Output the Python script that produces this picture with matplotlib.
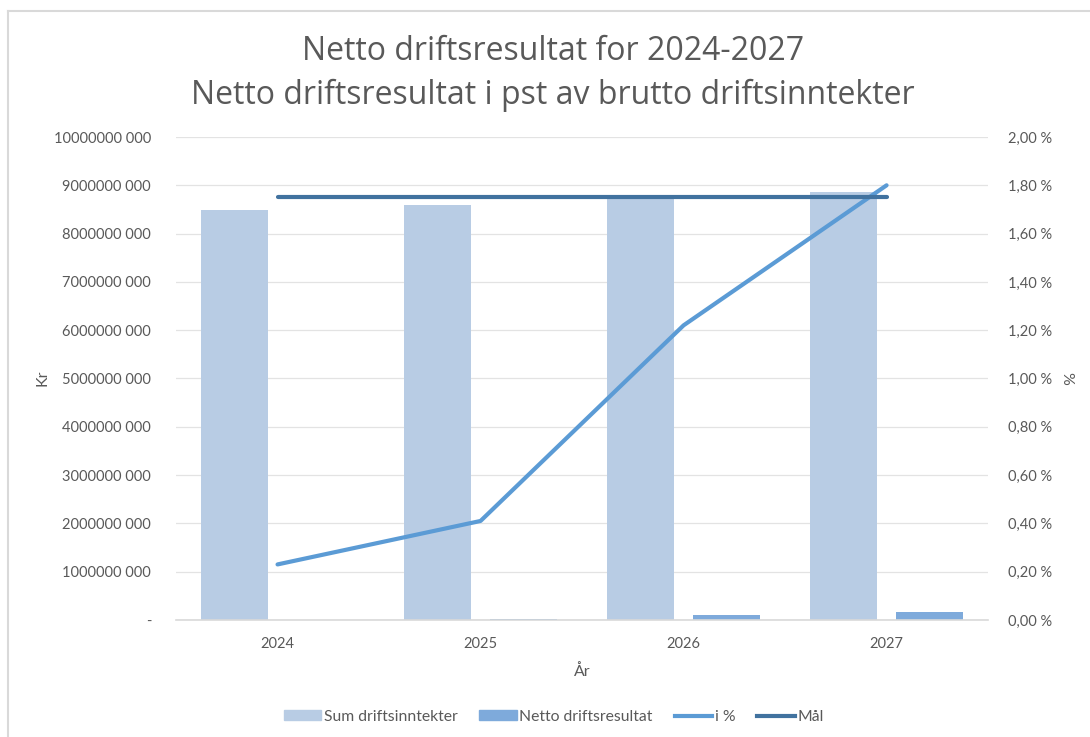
import numpy as np
import matplotlib
matplotlib.use("Agg")
import matplotlib.pyplot as plt
from matplotlib.ticker import FuncFormatter, MultipleLocator
from matplotlib.lines import Line2D

# data
years = ["2024", "2025", "2026", "2027"]
sum_driftsinntekter = [8.49e9, 8.59e9, 8.76e9, 8.86e9]
netto_driftsresultat = [8e6, 10e6, 107e6, 160e6]
i_pst = [0.23, 0.41, 1.22, 1.80]
maal = [1.75, 1.75, 1.75, 1.75]

txt = "#595959"
grid_c = "#d9d9d9"
c_sum = "#b8cce4"
c_netto = "#7eaadb"
c_pst = "#5b9bd5"
c_maal = "#41729f"

plt.rcParams["font.family"] = ["Lato", "DejaVu Sans"]

fig = plt.figure(figsize=(10.9, 7.37), dpi=100)
ax = fig.add_axes([0.1615, 0.1588, 0.745, 0.6553])
ax2 = ax.twinx()

x = np.arange(len(years))
w = 0.33
ax.bar(x - 0.21, sum_driftsinntekter, w, color=c_sum, zorder=2, label="Sum driftsinntekter")
ax.bar(x + 0.21, netto_driftsresultat, w, color=c_netto, zorder=2, label="Netto driftsresultat")

ax.set_xlim(-0.5, 3.5)
ax.set_ylim(0, 10e9)
ax.yaxis.set_major_locator(MultipleLocator(1e9))

def kr_fmt(v, pos):
    if v == 0:
        return "-"
    return f"{int(v // 1000)} 000"

ax.yaxis.set_major_formatter(FuncFormatter(kr_fmt))
ax.grid(axis="y", color="#e3e3e3", lw=0.9, zorder=0)
ax.set_axisbelow(True)

ax2.plot(x, i_pst, color=c_pst, lw=3, solid_capstyle="round", zorder=3)
ax2.plot(x, maal, color=c_maal, lw=3, solid_capstyle="round", zorder=3)
ax2.set_ylim(0, 2.0)
ax2.yaxis.set_major_locator(MultipleLocator(0.2))
ax2.yaxis.set_major_formatter(FuncFormatter(lambda v, p: f"{v:.2f}".replace(".", ",") + " %"))

for a in (ax, ax2):
    for s in a.spines.values():
        s.set_visible(False)
    a.tick_params(length=0, labelsize=10.5, colors=txt)
ax.spines["bottom"].set_visible(True)
ax.spines["bottom"].set_color(grid_c)
ax.spines["bottom"].set_linewidth(1.2)

ax.set_xticks(x)
ax.set_xticklabels(years)
ax.tick_params(axis="x", pad=12)
ax.tick_params(axis="y", pad=18)
ax2.tick_params(axis="y", pad=14)

ax.set_xlabel("År", fontsize=11.5, color=txt, labelpad=10)
fig.text(42 / 1090, 1 - 378 / 737, "Kr", rotation=90, ha="center", va="center", fontsize=11.5, color=txt)
fig.text(1066 / 1090, 1 - 378 / 737, "%", rotation=270, ha="center", va="center", fontsize=11.5, color=txt)

fig.text(0.507, 1 - 52 / 737, "Netto driftsresultat for 2024-2027", ha="center", va="center",
         fontsize=23, color=txt, family=["Open Sans", "DejaVu Sans"])
fig.text(0.507, 1 - 95 / 737, "Netto driftsresultat i pst av brutto driftsinntekter", ha="center", va="center",
         fontsize=23, color=txt, family=["Open Sans", "DejaVu Sans"])

handles = [
    plt.Rectangle((0, 0), 1, 1, color=c_sum),
    plt.Rectangle((0, 0), 1, 1, color=c_netto),
    Line2D([], [], color=c_pst, lw=3),
    Line2D([], [], color=c_maal, lw=3),
]
labels = ["Sum driftsinntekter", "Netto driftsresultat", "i %", "Mål"]
fig.legend(handles, labels, loc="center", bbox_to_anchor=(0.508, 1 - 717 / 737), ncol=4, frameon=False,
           fontsize=11.3, labelcolor=txt, handlelength=2.4, handleheight=0.6, columnspacing=1.4, handletextpad=0.15)

# chart border
fig.add_artist(Line2D([7.5 / 1090, 1], [1 - 11 / 737, 1 - 11 / 737], color=grid_c, lw=1.5))
fig.add_artist(Line2D([7.5 / 1090, 7.5 / 1090], [0, 1 - 11 / 737], color=grid_c, lw=1.5))

fig.savefig("out.png", dpi=100)
